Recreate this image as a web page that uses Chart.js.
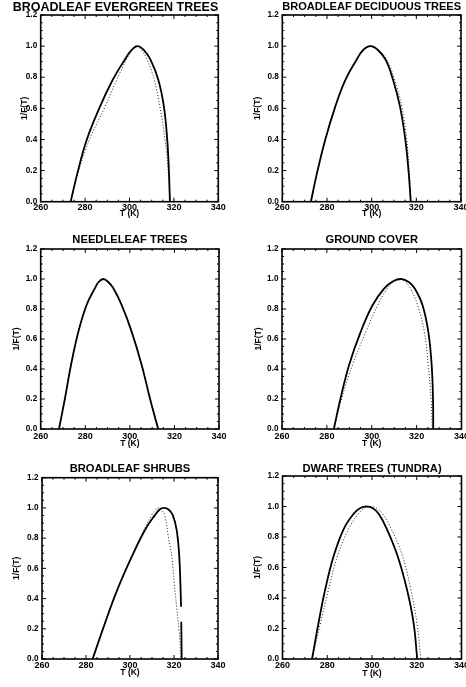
<!DOCTYPE html>
<html>
<head>
<meta charset="utf-8">
<title>1/F(T) by vegetation type</title>
<script src="https://cdn.jsdelivr.net/npm/chart.js@4.4.1/dist/chart.umd.min.js"></script>
<style>
  html, body { margin: 0; padding: 0; background: #fff; overflow: hidden; }
  #figure { position: relative; width: 466px; height: 687px; }
  canvas { position: absolute; }
</style>
</head>
<body>
<div id="figure">
  <canvas id="p0" width="233" height="225" style="left:0px;top:0px"></canvas>
  <canvas id="p1" width="233" height="225" style="left:233px;top:0px"></canvas>
  <canvas id="p2" width="233" height="230" style="left:0px;top:225px"></canvas>
  <canvas id="p3" width="233" height="230" style="left:233px;top:225px"></canvas>
  <canvas id="p4" width="233" height="232" style="left:0px;top:455px"></canvas>
  <canvas id="p5" width="233" height="232" style="left:233px;top:455px"></canvas>
</div>
<script>
// Values, as [T (K), 1/F(T)]
const titles = [
  'BROADLEAF EVERGREEN TREES', 'BROADLEAF DECIDUOUS TREES',
  'NEEDLELEAF TREES', 'GROUND COVER',
  'BROADLEAF SHRUBS', 'DWARF TREES (TUNDRA)'
];
const xTitle = 'T (K)';
const yTitle = '1/F(T)';
const xTicks = [260, 280, 300, 320, 340];
const yTicks = [0, 0.2, 0.4, 0.6, 0.8, 1.0, 1.2];

const evergreenSolid = [[273.5, 0], [276.5, 0.182], [280.7, 0.397], [286.7, 0.611], [292.4, 0.782],
  [297.8, 0.911], [300.8, 0.972], [303.5, 1.0], [306.3, 0.977], [309.5, 0.911], [313, 0.782],
  [315.5, 0.611], [317, 0.397], [317.8, 0.182], [318.2, 0]];
const evergreenDotted = [[273.5, 0], [276.8, 0.182], [281.9, 0.397], [289, 0.611], [294.2, 0.782],
  [298.5, 0.911], [301, 0.972], [303, 1.0], [305.5, 0.972], [308, 0.911], [311.2, 0.782],
  [313.7, 0.611], [316, 0.397], [317.5, 0.182], [318.2, 0]];

const deciduousSolid = [[272.8, 0], [275.5, 0.182], [279.2, 0.397], [283.7, 0.611], [288.2, 0.782],
  [293.2, 0.911], [296.2, 0.975], [299.5, 1.0], [302.8, 0.975], [306.3, 0.911], [309.6, 0.782],
  [312.7, 0.611], [315.1, 0.397], [316.6, 0.182], [317.5, 0]];
const deciduousDotted = [[272.8, 0], [275.5, 0.182], [279.2, 0.397], [283.7, 0.611], [288.2, 0.782],
  [293.2, 0.911], [296.2, 0.975], [299.5, 1.0], [303, 0.975], [306.8, 0.911], [310.3, 0.782],
  [313.5, 0.611], [315.7, 0.397], [316.9, 0.182], [317.6, 0]];

const needleleafSolid = [[268.2, 0], [270.9, 0.205], [273.6, 0.427], [276.9, 0.649], [280.6, 0.827],
  [284.3, 0.938], [286, 0.98], [288.1, 1.0], [290.3, 0.98], [292.6, 0.938], [296.3, 0.827],
  [300.8, 0.649], [305.3, 0.427], [309, 0.205], [312.7, 0]];
const needleleafDotted = [[268.2, 0], [270.9, 0.205], [273.6, 0.427], [276.9, 0.649], [280.6, 0.827],
  [284.3, 0.938], [286, 0.98], [288.1, 1.0], [290.3, 0.98], [292.6, 0.938], [296.3, 0.827],
  [300.8, 0.649], [305.3, 0.427], [309.1, 0.205], [312.8, 0]];

const groundSolid = [[283.1, 0], [286.1, 0.205], [289.9, 0.427], [295.1, 0.649], [300.4, 0.827],
  [305.6, 0.938], [309.5, 0.985], [313.2, 1.0], [316.5, 0.98], [319.1, 0.938], [322.6, 0.827],
  [325.2, 0.649], [326.7, 0.427], [327.3, 0.205], [327.4, 0]];
const groundDotted = [[283.1, 0], [286.6, 0.205], [291.4, 0.427], [297.4, 0.649], [302.7, 0.827],
  [307, 0.938], [310, 0.985], [312.5, 1.0], [315, 0.98], [317.2, 0.938], [320.4, 0.827],
  [323.4, 0.649], [325.2, 0.427], [326.4, 0.205], [327, 0]];

const shrubsSolid = [[283, 0], [288.6, 0.236], [294.2, 0.457], [300.8, 0.677], [306.8, 0.854],
  [311.4, 0.954], [313.5, 0.99], [315.5, 1.0], [317.5, 0.99], [319.4, 0.954], [321.2, 0.854],
  [322.4, 0.677], [323, 0.457], [323.2, 0.346], [323.25, null], [323.3, 0.247], [323.5, 0]];
const shrubsDotted = [[283, 0], [288.6, 0.236], [294.2, 0.457], [300.8, 0.677], [306.4, 0.854],
  [309.9, 0.954], [311.5, 0.985], [312.9, 1.0], [314.5, 0.985], [315.9, 0.943], [317.4, 0.81],
  [319, 0.677], [320.1, 0.5], [321.2, 0.346], [322.3, 0.19], [323.2, 0]];

const tundraSolid = [[273.2, 0], [276.1, 0.236], [279.1, 0.457], [282.9, 0.677], [287.4, 0.854],
  [291.9, 0.954], [294.8, 0.99], [297.5, 1.0], [300.2, 0.99], [302.9, 0.954], [306.6, 0.854],
  [311.4, 0.677], [315.6, 0.457], [318.6, 0.236], [320.2, 0]];
const tundraDotted = [[273.2, 0], [277, 0.236], [280.6, 0.457], [284.6, 0.677], [289.6, 0.854],
  [294, 0.954], [296.8, 0.99], [299.4, 1.0], [302, 0.99], [304.6, 0.954], [308.6, 0.854],
  [313.6, 0.677], [317.3, 0.457], [320.1, 0.236], [321.8, 0]];

const curves = [
  [evergreenSolid, evergreenDotted], [deciduousSolid, deciduousDotted],
  [needleleafSolid, needleleafDotted], [groundSolid, groundDotted],
  [shrubsSolid, shrubsDotted], [tundraSolid, tundraDotted]
];

// Panel geometry in canvas pixels (plot box, title centres, label gaps)
const layout = [
  { left: 40.7, top: 15, right: 218.3, bottom: 201.7, titleSize: 12.8, titleX: 115.5, titleY: 7, yTitleX: 25, xTitleY: 213.3, tickPad: 1.5 },
  { left: 49.3, top: 15, right: 228, bottom: 201.7, titleSize: 11.2, titleX: null, titleY: 7.2, yTitleX: 25, xTitleY: 213.3, tickPad: 1.5 },
  { left: 40.7, top: 24, right: 219, bottom: 204, titleSize: 11.2, titleX: null, titleY: 15, yTitleX: 17, xTitleY: 218.3, tickPad: 2.8 },
  { left: 49, top: 24, right: 228.5, bottom: 204, titleSize: 11.2, titleX: null, titleY: 14.7, yTitleX: 26, xTitleY: 218.3, tickPad: 2.8 },
  { left: 42, top: 22.7, right: 218, bottom: 204, titleSize: 11.2, titleX: null, titleY: 13.5, yTitleX: 17, xTitleY: 218, tickPad: 2.2 },
  { left: 49.5, top: 21, right: 228.5, bottom: 204, titleSize: 11.2, titleX: null, titleY: 13.8, yTitleX: 25, xTitleY: 218.3, tickPad: 2.2 }
];

const FONT = "'Liberation Sans', Arial, Helvetica, sans-serif";

// box round the plot with inward major/minor ticks on all four sides
const frameTicks = {
  id: 'frameTicks',
  afterDatasetsDraw(chart) {
    const { ctx, chartArea: a, scales: { x, y } } = chart;
    ctx.save();
    ctx.strokeStyle = '#000';
    ctx.lineWidth = 1;
    ctx.beginPath();
    for (let i = 0; i <= 16; i++) {
      const px = x.getPixelForValue(260 + i * 5);
      const len = i % 4 === 0 ? 4 : 2;
      ctx.moveTo(px, a.bottom); ctx.lineTo(px, a.bottom - len);
      ctx.moveTo(px, a.top); ctx.lineTo(px, a.top + len);
    }
    for (let i = 0; i <= 24; i++) {
      const py = y.getPixelForValue(i * 0.05);
      const len = i % 4 === 0 ? 4 : 2;
      ctx.moveTo(a.left, py); ctx.lineTo(a.left + len, py);
      ctx.moveTo(a.right, py); ctx.lineTo(a.right - len, py);
    }
    ctx.stroke();
    ctx.lineWidth = 1.6;
    ctx.strokeRect(a.left, a.top, a.right - a.left, a.bottom - a.top);
    ctx.restore();
  }
};

function toPoints(pairs) {
  return pairs.map(([x, y]) => ({ x, y }));
}

function makePanel(i) {
  const canvas = document.getElementById('p' + i);
  const L = layout[i];
  const H = canvas.height;
  const W = canvas.width;
  const [solid, dotted] = curves[i];
  // a full-width title is centred between the outer paddings
  const full = L.titleX !== null;
  const padLeft = full ? 2 * L.titleX - L.right : 0;

  new Chart(canvas.getContext('2d'), {
    type: 'line',
    data: {
      datasets: [
        {
          data: toPoints(solid),
          borderColor: '#000',
          borderWidth: 1.8,
          pointRadius: 0,
          tension: 0.4,
          spanGaps: false
        },
        {
          data: toPoints(dotted),
          borderColor: '#222',
          borderWidth: 1,
          borderDash: [1, 2],
          pointRadius: 0,
          tension: 0.4
        }
      ]
    },
    options: {
      responsive: false,
      animation: false,
      events: [],
      layout: { padding: { left: padLeft, top: 0, bottom: 0, right: W - L.right } },
      plugins: {
        legend: { display: false },
        tooltip: { enabled: false },
        title: {
          display: true,
          text: titles[i],
          color: '#000',
          fullSize: full,
          font: { family: FONT, size: L.titleSize, weight: 'bold', lineHeight: 1 },
          padding: {
            top: L.titleY - L.titleSize / 2,
            bottom: L.top - (L.titleY - L.titleSize / 2) - L.titleSize
          }
        }
      },
      scales: {
        x: {
          type: 'linear',
          min: 260,
          max: 340,
          afterBuildTicks: (s) => { s.ticks = xTicks.map(v => ({ value: v })); },
          afterFit: (s) => { s.height = H - L.bottom; s.paddingLeft = 0; s.paddingRight = 0; },
          grid: { display: false, drawTicks: false },
          border: { display: false },
          ticks: {
            autoSkip: false,
            maxRotation: 0,
            padding: L.tickPad,
            color: '#000',
            font: { family: FONT, size: 9, weight: 'bold', lineHeight: 1 },
            callback: (v) => String(v)
          },
          title: {
            display: true,
            text: xTitle,
            color: '#000',
            font: { family: FONT, size: 8.5, weight: 'bold', lineHeight: 1 },
            padding: { top: 0, bottom: H - L.xTitleY - 4.25 }
          }
        },
        y: {
          min: 0,
          max: 1.2,
          afterBuildTicks: (s) => { s.ticks = yTicks.map(v => ({ value: v })); },
          afterFit: (s) => { s.width = L.left - padLeft; s.paddingTop = 0; s.paddingBottom = 0; },
          grid: { display: false, drawTicks: false },
          border: { display: false },
          ticks: {
            padding: 3.5,
            color: '#000',
            font: { family: FONT, size: 8.2, weight: 'bold', lineHeight: 1 },
            callback: (v) => v.toFixed(1)
          },
          title: {
            display: true,
            text: yTitle,
            color: '#000',
            font: { family: FONT, size: 8.5, weight: 'bold', lineHeight: 1 },
            padding: { top: L.yTitleX - padLeft - 4.25, bottom: 0 }
          }
        }
      }
    },
    plugins: [frameTicks]
  });
}

for (let i = 0; i < 6; i++) makePanel(i);
</script>
</body>
</html>
